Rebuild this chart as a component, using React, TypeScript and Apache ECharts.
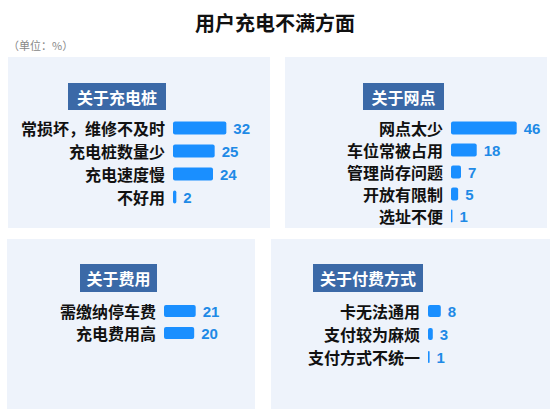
import React, { useEffect, useRef } from "react";
import * as echarts from "echarts";

// 四个面板的分类与数值（单位：%）
const pileCats = ["常损坏，维修不及时", "充电桩数量少", "充电速度慢", "不好用"];
const pileVals = [32, 25, 24, 2];

const siteCats = ["网点太少", "车位常被占用", "管理尚存问题", "开放有限制", "选址不便"];
const siteVals = [46, 18, 7, 5, 1];

const feeCats = ["需缴纳停车费", "充电费用高"];
const feeVals = [21, 20];

const payCats = ["卡无法通用", "支付较为麻烦", "支付方式不统一"];
const payVals = [8, 3, 1];

const headers = ["关于充电桩", "关于网点", "关于费用", "关于付费方式"];

const FONT = '"Noto Sans CJK SC", "Noto Sans", sans-serif';
const BAR = "#1a8fff";
const VALUE = "#1e8ae6";
const PANEL = "#eef3fb";
const HEAD = "#3b69a7";

const App = () => {
  const chartRef = useRef<HTMLDivElement>(null);

  useEffect(() => {
    document.body.style.margin = "0";
    if (!chartRef.current) return;
    const chart = echarts.init(chartRef.current, undefined, { renderer: "svg" });

    const grids = [
      { left: 173, top: 116.5, width: 80, height: 92 },
      { left: 451, top: 117, width: 80, height: 110 },
      { left: 164, top: 300, width: 80, height: 44 },
      { left: 428, top: 299.5, width: 80, height: 69 },
    ];
    const maxes = [48, 56, 53, 50];
    const cats = [pileCats, siteCats, feeCats, payCats];
    const vals = [pileVals, siteVals, feeVals, payVals];
    const barWidths = [13, 13, 12, 12];

    const headBoxes = [
      { x: 68, y: 83, w: 98, h: 27 },
      { x: 363, y: 83, w: 81, h: 27 },
      { x: 80, y: 264, w: 77, h: 28 },
      { x: 313, y: 264, w: 110, h: 28 },
    ];

    const panels = [
      { x: 8, y: 57, w: 262, h: 171 },
      { x: 285, y: 57, w: 262, h: 171 },
      { x: 7, y: 239, w: 248, h: 170 },
      { x: 271, y: 239, w: 279, h: 170 },
    ];

    const graphic: any[] = [];
    panels.forEach((p) => {
      graphic.push({
        type: "rect",
        z: -10,
        shape: { x: p.x, y: p.y, width: p.w, height: p.h },
        style: { fill: PANEL },
      });
    });
    headBoxes.forEach((b, i) => {
      graphic.push({
        type: "rect",
        shape: { x: b.x, y: b.y, width: b.w, height: b.h },
        style: { fill: HEAD },
      });
      graphic.push({
        type: "text",
        x: b.x + b.w / 2,
        y: b.y + b.h / 2,
        style: {
          text: headers[i],
          fill: "#fff",
          font: `bold 16px ${FONT}`,
          textAlign: "center",
          textVerticalAlign: "middle",
        },
      });
    });
    graphic.push({
      type: "text",
      x: 8,
      y: 45,
      style: {
        text: "（单位：%）",
        fill: "#888",
        font: `11px ${FONT}`,
        textVerticalAlign: "middle",
      },
    });

    chart.setOption({
      animation: false,
      title: {
        text: "用户充电不满方面",
        left: "center",
        top: 7,
        textStyle: { fontSize: 20, fontWeight: "bold", color: "#111", fontFamily: FONT },
      },
      graphic,
      grid: grids,
      xAxis: grids.map((_, i) => ({
        type: "value",
        gridIndex: i,
        min: 0,
        max: maxes[i],
        show: false,
      })),
      yAxis: grids.map((_, i) => ({
        type: "category",
        gridIndex: i,
        inverse: true,
        data: cats[i],
        axisLine: { show: false },
        axisTick: { show: false },
        axisLabel: {
          interval: 0,
          margin: 8,
          color: "#111",
          fontSize: 16,
          lineHeight: 18,
          fontWeight: "bold",
          fontFamily: FONT,
        },
      })),
      series: grids.map((_, i) => ({
        type: "bar",
        xAxisIndex: i,
        yAxisIndex: i,
        data: vals[i],
        barWidth: barWidths[i],
        itemStyle: { color: BAR, borderRadius: 2 },
        label: {
          show: true,
          position: "right",
          distance: 7,
          color: VALUE,
          fontSize: 15,
          fontWeight: "bold",
          fontFamily: "Arial, Liberation Sans, sans-serif",
        },
      })),
    });
    return () => {
      chart.dispose();
    };
  }, []);

  return (
    <div
      ref={chartRef}
      style={{ width: "550px", height: "409px" }}
      aria-label="用户充电不满方面"
    />
  );
};

export default App;
